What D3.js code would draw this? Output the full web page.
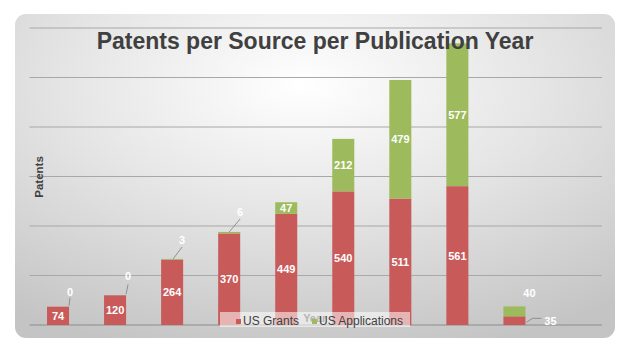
<!DOCTYPE html>
<html>
<head>
<meta charset="utf-8">
<script src="https://cdn.jsdelivr.net/npm/d3@7"></script>
<style>
  html, body { margin: 0; padding: 0; background: #fff; }
  svg { display: block; font-family: "Liberation Sans", Arial, sans-serif; }
</style>
</head>
<body>
<div id="chart"></div>
<script>
// ---- data ----
const years = ['y1', 'y2', 'y3', 'y4', 'y5', 'y6', 'y7', 'y8', 'y9', 'y10']   // labels not visible in the picture
const usGrants = [74, 120, 264, 370, 449, 540, 511, 561, 35, null]
const usApplications = [0, 0, 3, 6, 47, 212, 479, 577, 40, null]
const yTicks = [0, 200, 400, 600, 800, 1000, 1200]
const seriesNames = ['US Grants', 'US Applications']
const seriesColors = ['#c95a5a', '#9dbb5d']

const width = 627, height = 353
const plot = { left: 29.5, right: 600, top: 28, bottom: 325 }

const svg = d3.select('#chart').append('svg')
    .attr('width', width)
    .attr('height', height)

// panel background with a soft radial shading
const defs = svg.append('defs')
const grad = defs.append('radialGradient')
    .attr('id', 'bg')
    .attr('cx', '48%').attr('cy', '22%').attr('r', '85%')
grad.append('stop').attr('offset', '0%').attr('stop-color', '#ffffff')
grad.append('stop').attr('offset', '45%').attr('stop-color', '#e6e6e6')
grad.append('stop').attr('offset', '100%').attr('stop-color', '#c4c4c4')

svg.append('rect')
    .attr('x', 15).attr('y', 14)
    .attr('width', 600).attr('height', 324)
    .attr('rx', 11)
    .attr('fill', 'url(#bg)')

// scales
const x = d3.scaleBand().domain(years).range([plot.left, plot.right]).paddingInner(0.614).paddingOuter(0.307)
const y = d3.scaleLinear().domain([0, 1200]).range([plot.bottom, plot.top])

// gridlines
svg.append('g')
    .selectAll('line')
    .data(yTicks)
    .join('line')
    .attr('x1', plot.left).attr('x2', plot.right + 2)
    .attr('y1', d => y(d)).attr('y2', d => y(d))
    .attr('stroke', d => d === 0 ? '#8c8c8c' : '#a8a8a8')
    .attr('stroke-width', 1)

// stacked bars
const rows = years.map((yr, i) => ({ year: yr, grants: usGrants[i], apps: usApplications[i] }))
    .filter(d => d.grants !== null)
const stack = d3.stack().keys(['grants', 'apps'])(rows)

const layers = svg.append('g')
    .selectAll('g')
    .data(stack)
    .join('g')
    .attr('fill', (d, i) => seriesColors[i])

layers.selectAll('rect')
    .data(d => d)
    .join('rect')
    .attr('x', d => x(d.data.year))
    .attr('width', x.bandwidth())
    .attr('y', d => y(d[1]))
    .attr('height', d => y(d[0]) - y(d[1]))

// "Year" axis title (sits behind the legend)
svg.append('text')
    .attr('x', (plot.left + plot.right) / 2)
    .attr('y', 322)
    .attr('text-anchor', 'middle')
    .attr('font-size', 11)
    .attr('font-weight', 'bold')
    .attr('fill', '#595959')
    .text('Year')

// value labels
const labelG = svg.append('g')
    .attr('fill', '#fff')
    .attr('font-size', 11)
    .attr('font-weight', 'bold')
    .attr('text-anchor', 'middle')

// labels moved out of tiny segments: label centre offset from (bar centre, segment top),
// plus leader line points relative to the same origin
const outside = {
    '0-apps':   { at: [12, -15], leader: [[11, -1], [12, -9]] },
    '1-apps':   { at: [13, -19], leader: [[11, -1], [13, -11]] },
    '2-apps':   { at: [10, -19], leader: [[1, 0], [10, -12]] },
    '3-apps':   { at: [11, -20], leader: [[0, 0], [11, -13]] },
    '8-apps':   { at: [15, -13], leader: null },
    '8-grants': { at: [36, 5], leader: [[12, 6], [18, 2], [27, 2]] }
}

stack.forEach(layer => {
    const key = layer.key
    layer.forEach((d, i) => {
        const v = d.data[key]
        const cx = x(d.data.year) + x.bandwidth() / 2
        const top = y(d[1]), bot = y(d[0])
        const o = outside[i + '-' + key]
        if (o) {
            if (o.leader) {
                svg.append('path')
                    .attr('d', d3.line()(o.leader.map(p => [cx + p[0], top + p[1]])))
                    .attr('fill', 'none')
                    .attr('stroke', '#7f7f7f')
                    .attr('stroke-width', 0.8)
            }
            labelG.append('text')
                .attr('x', cx + o.at[0])
                .attr('y', top + o.at[1] + 4)
                .text(v)
        } else {
            labelG.append('text')
                .attr('x', cx)
                .attr('y', (top + bot) / 2 + 4)
                .text(v)
        }
    })
})

// legend
const legend = svg.append('g')
legend.append('rect')
    .attr('x', 220).attr('y', 312)
    .attr('width', 190).attr('height', 15)
    .attr('fill', '#ffffff').attr('fill-opacity', 0.55)
const legendX = [236, 312]
seriesNames.forEach((name, i) => {
    legend.append('rect')
        .attr('x', legendX[i]).attr('y', 319)
        .attr('width', 5).attr('height', 5)
        .attr('fill', seriesColors[i])
    legend.append('text')
        .attr('x', legendX[i] + 7).attr('y', 325)
        .attr('font-size', 12)
        .attr('fill', '#404040')
        .text(name)
})

// y-axis title
svg.append('text')
    .attr('transform', 'translate(43,177) rotate(-90)')
    .attr('text-anchor', 'middle')
    .attr('font-size', 11.5)
    .attr('font-weight', 'bold')
    .attr('fill', '#404040')
    .text('Patents')

// chart title
svg.append('text')
    .attr('x', 315)
    .attr('y', 49)
    .attr('text-anchor', 'middle')
    .attr('font-size', 23)
    .attr('font-weight', 'bold')
    .attr('fill', '#404040')
    .text('Patents per Source per Publication Year')
</script>
</body>
</html>
